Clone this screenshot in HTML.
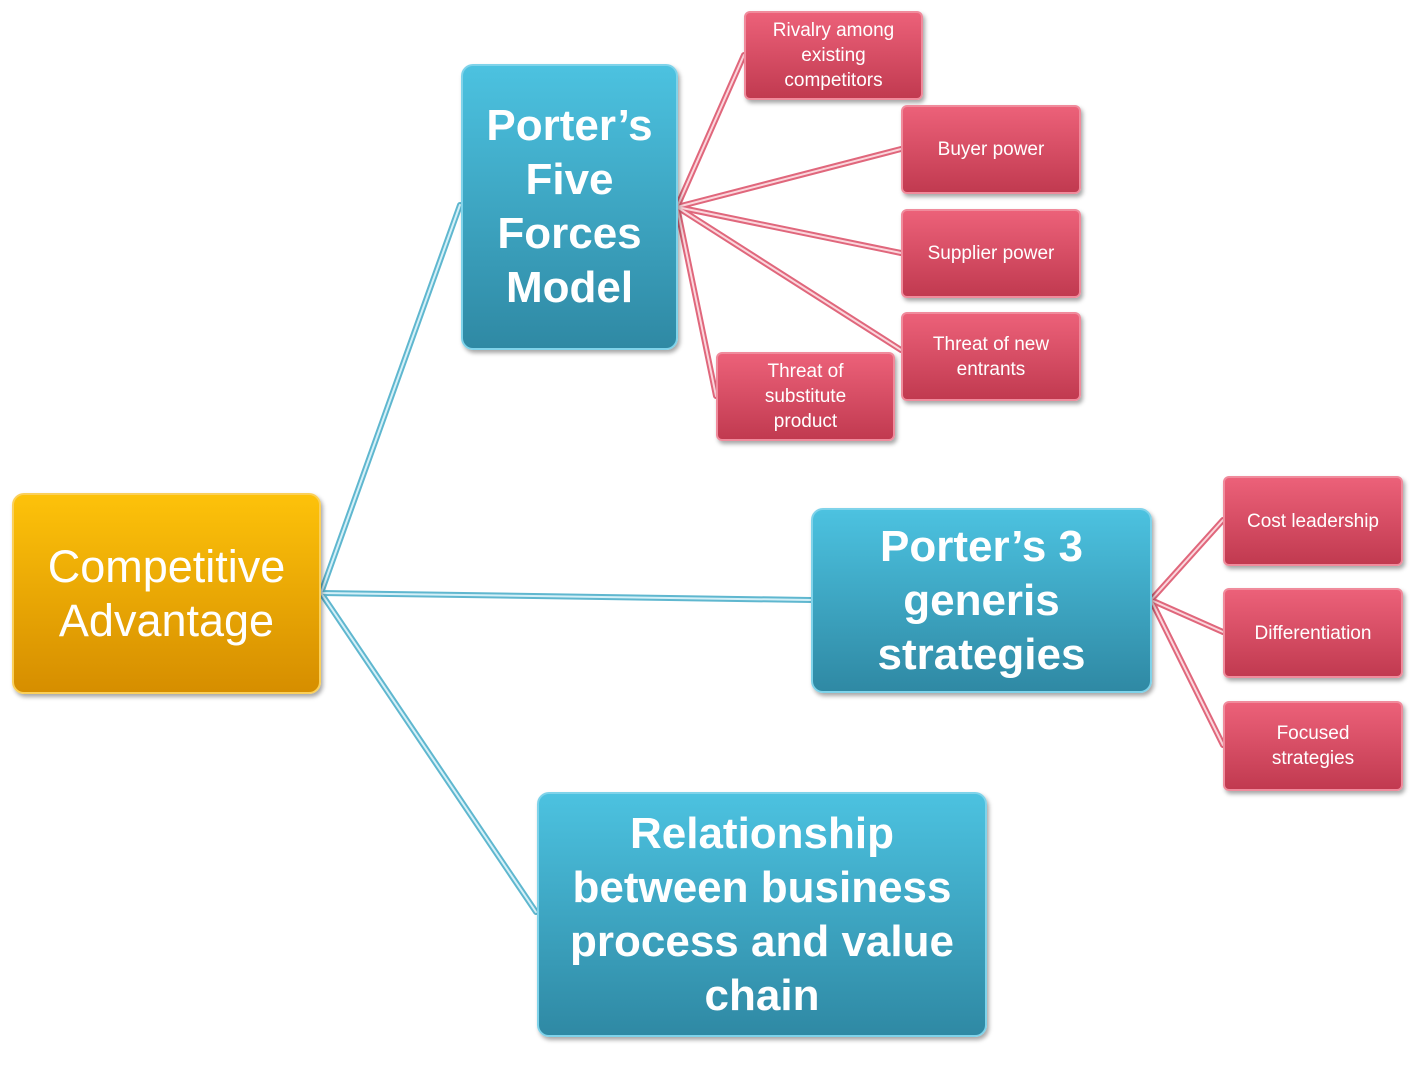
<!DOCTYPE html>
<html><head><meta charset="utf-8"><style>
html,body{margin:0;padding:0;background:#fff;}
body{width:1423px;height:1075px;position:relative;overflow:hidden;font-family:"Liberation Sans",sans-serif;}
.b{position:absolute;display:flex;align-items:center;justify-content:center;text-align:center;color:#fff;border-radius:12px;box-sizing:border-box;box-shadow:2px 3px 4px rgba(0,0,0,0.35);}
.o{background:linear-gradient(#fdc20a,#d68e00);border:2px solid #fbd05a;font-size:45px;line-height:54px;}
.bl{background:linear-gradient(#4cc2e0,#2f89a4);border:2px solid #7fd3ea;font-weight:bold;font-size:44px;line-height:54px;}
.r{background:linear-gradient(#ec6179,#c13a50);border:2px solid #f08b9c;font-size:19px;line-height:25px;border-radius:6px;}
svg{position:absolute;left:0;top:0;}
</style></head><body>
<svg width="1423" height="1075">
<g fill="none" stroke-linecap="round">
<g stroke="#5fb7cf" stroke-width="6">
<line x1="321" y1="593" x2="460" y2="205"/><line x1="321" y1="593" x2="811" y2="600"/><line x1="321" y1="593" x2="536" y2="912"/>
</g>
<g stroke="#d4f0f8" stroke-width="2">
<line x1="321" y1="593" x2="460" y2="205"/><line x1="321" y1="593" x2="811" y2="600"/><line x1="321" y1="593" x2="536" y2="912"/>
</g>
<g stroke="#e0677c" stroke-width="6">
<line x1="677" y1="207" x2="744" y2="55"/><line x1="677" y1="207" x2="901" y2="149"/><line x1="677" y1="207" x2="901" y2="253"/><line x1="677" y1="207" x2="901" y2="350"/><line x1="677" y1="207" x2="716" y2="396"/>
<line x1="1151" y1="600" x2="1223" y2="520"/><line x1="1151" y1="600" x2="1223" y2="632"/><line x1="1151" y1="600" x2="1223" y2="745"/>
</g>
<g stroke="#fbd6dc" stroke-width="2">
<line x1="677" y1="207" x2="744" y2="55"/><line x1="677" y1="207" x2="901" y2="149"/><line x1="677" y1="207" x2="901" y2="253"/><line x1="677" y1="207" x2="901" y2="350"/><line x1="677" y1="207" x2="716" y2="396"/>
<line x1="1151" y1="600" x2="1223" y2="520"/><line x1="1151" y1="600" x2="1223" y2="632"/><line x1="1151" y1="600" x2="1223" y2="745"/>
</g>
</g>
</svg>
<div class="b o" style="left:12px;top:493px;width:309px;height:201px;">Competitive<br>Advantage</div>
<div class="b bl" style="left:461px;top:64px;width:217px;height:286px;">Porter’s<br>Five<br>Forces<br>Model</div>
<div class="b bl" style="left:811px;top:508px;width:341px;height:185px;">Porter’s 3<br>generis<br>strategies</div>
<div class="b bl" style="left:537px;top:792px;width:450px;height:245px;">Relationship<br>between business<br>process and value<br>chain</div>
<div class="b r" style="left:744px;top:11px;width:179px;height:89px;">Rivalry among<br>existing<br>competitors</div>
<div class="b r" style="left:901px;top:105px;width:180px;height:89px;">Buyer power</div>
<div class="b r" style="left:901px;top:209px;width:180px;height:89px;">Supplier power</div>
<div class="b r" style="left:901px;top:312px;width:180px;height:89px;">Threat of new<br>entrants</div>
<div class="b r" style="left:716px;top:352px;width:179px;height:89px;">Threat of<br>substitute<br>product</div>
<div class="b r" style="left:1223px;top:476px;width:180px;height:90px;">Cost leadership</div>
<div class="b r" style="left:1223px;top:588px;width:180px;height:90px;">Differentiation</div>
<div class="b r" style="left:1223px;top:701px;width:180px;height:90px;">Focused<br>strategies</div>
</body></html>
